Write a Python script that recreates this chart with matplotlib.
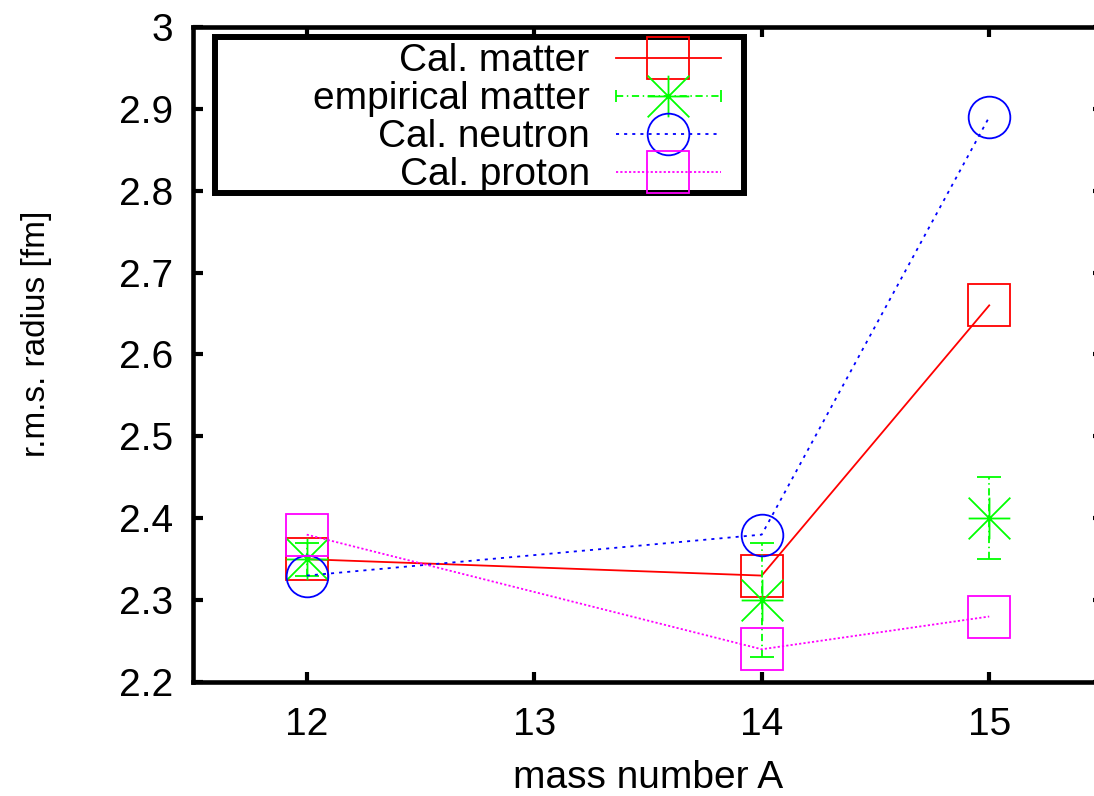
import matplotlib
matplotlib.use("Agg")
import matplotlib.pyplot as plt
from matplotlib.lines import Line2D
from matplotlib.patches import Rectangle
from matplotlib.path import Path
from matplotlib.legend_handler import HandlerLine2D, HandlerTuple
from matplotlib.ticker import FuncFormatter, MultipleLocator

# data
mass_a = [12, 14, 15]
cal_matter = [2.35, 2.33, 2.66]
emp_matter = [2.35, 2.30, 2.40]
emp_err = [0.02, 0.07, 0.05]
cal_neutron = [2.33, 2.38, 2.89]
cal_proton = [2.38, 2.24, 2.28]

plt.rcParams["font.family"] = ["Liberation Sans", "DejaVu Sans"]
plt.rcParams["font.size"] = 28

RED, GREEN, BLUE, MAGENTA = "#ff0000", "#00ff00", "#0000ff", "#ff00ff"
lw = 1.3
ms = 30

# gnuplot style asterisk (+ and x together)
asterisk = Path(
    [(-1, 0), (1, 0), (0, -1), (0, 1), (-1, -1), (1, 1), (-1, 1), (1, -1)],
    [Path.MOVETO, Path.LINETO] * 4,
)

dashdot = (0, (4, 2, 0.8, 2))
blue_dots = (0, (1.7, 2.8))
mag_dots = (0, (1.2, 1.2))

fig = plt.figure(figsize=(10.94, 7.96), dpi=100)
ax = fig.add_axes([0.1764, 0.1432, 0.8318, 0.8229])

ax.plot(mass_a, cal_matter, color=RED, lw=lw, marker="s", ms=ms,
        mfc="none", mew=lw)
eb = ax.errorbar(mass_a, emp_matter, yerr=emp_err, fmt="none", ecolor=GREEN,
                 elinewidth=lw, capsize=8.5, capthick=lw)
eb[2][0].set_linestyle(dashdot)
ax.plot(mass_a, emp_matter, ls="none", color=GREEN, marker=asterisk, ms=ms,
        mfc="none", mec=GREEN, mew=lw)
ax.plot(mass_a, cal_neutron, color=BLUE, lw=lw, ls=blue_dots, marker="o",
        ms=ms, mfc="none", mew=lw)
ax.plot(mass_a, cal_proton, color=MAGENTA, lw=lw, ls=mag_dots, marker="s",
        ms=ms, mfc="none", mew=lw)

ax.set_xlim(11.5, 15.5)
ax.set_ylim(2.2, 3.0)
ax.set_xticks([12, 13, 14, 15])
ax.yaxis.set_major_locator(MultipleLocator(0.1))
ax.yaxis.set_major_formatter(FuncFormatter(lambda v, p: f"{v:g}"))
ax.tick_params(direction="in", length=7, width=3, top=True, right=True,
               labelsize=28)
ax.tick_params(axis="x", pad=18)
ax.tick_params(axis="y", pad=14)
for s in ax.spines.values():
    s.set_linewidth(3.3)

ax.set_xlabel("mass number A", fontsize=28, labelpad=12)
ax.set_ylabel("r.m.s. radius [fm]", fontsize=24)
ax.yaxis.set_label_coords(-0.155, 0.532)

# legend
h_red = Line2D([], [], color=RED, lw=lw, marker="s", ms=ms, mfc="none", mew=lw)
h_bar = Line2D([], [], color=GREEN, lw=lw, ls=dashdot, marker="|", ms=8.5, mew=lw)
h_star = Line2D([], [], ls="none", color=GREEN, marker=asterisk, ms=ms,
                mfc="none", mec=GREEN, mew=lw)
h_blue = Line2D([], [], color=BLUE, lw=lw, ls=blue_dots, marker="o", ms=ms,
                mfc="none", mew=lw)
h_mag = Line2D([], [], color=MAGENTA, lw=lw, ls=mag_dots, marker="s", ms=ms,
               mfc="none", mew=lw)

leg = ax.legend(
    [h_red, (h_bar, h_star), h_blue, h_mag],
    ["Cal. matter", "empirical matter", "Cal. neutron", "Cal. proton"],
    loc="upper right", bbox_to_anchor=(0.580, 0.975), frameon=False,
    markerfirst=False, handlelength=2.7, handletextpad=0.67,
    labelspacing=0.05, borderpad=0, borderaxespad=0, fontsize=28,
    handler_map={h_bar: HandlerLine2D(numpoints=2, marker_pad=0),
                 tuple: HandlerTuple(ndivide=1)},
)
ax.add_patch(Rectangle((0.0242, 0.7466), 0.5813, 0.2381, transform=ax.transAxes,
                       fill=False, edgecolor="black", lw=4.3, zorder=4,
                       clip_on=False))

fig.savefig("out.png", dpi=100)
